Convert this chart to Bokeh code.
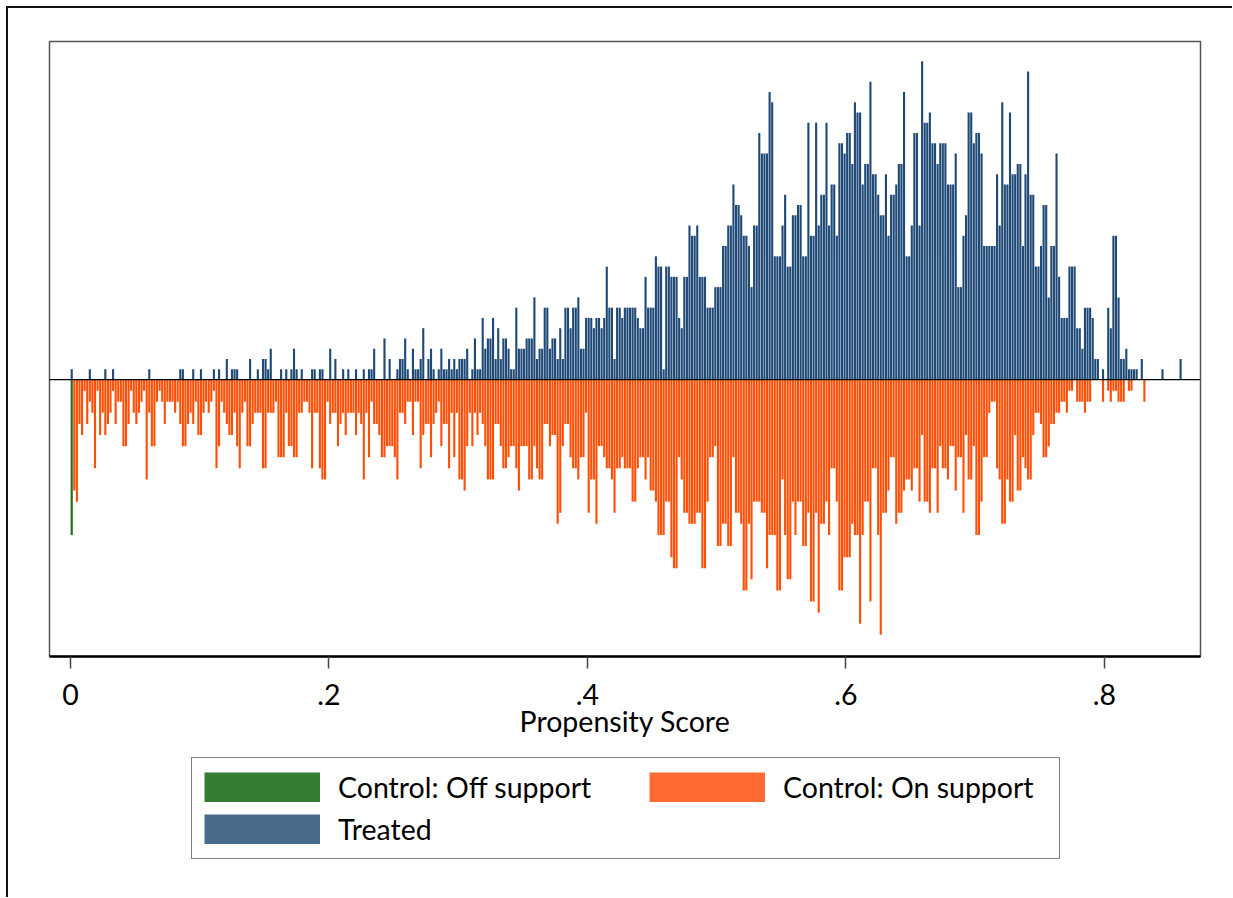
import numpy as np
from bokeh.plotting import figure
from bokeh.layouts import column
from bokeh.models import Range1d, FixedTicker, Span, Legend, LegendItem
from bokeh.embed import file_html
from bokeh.resources import INLINE

# ---------------- data (frequencies per propensity-score bin of width 0.002) -------------
BIN_WIDTH = 0.002

control_on = [
    0,
    10, 11, 4, 5, 1, 4, 2, 3, 8, 1,
    5, 3, 5, 4, 3, 1, 4, 2, 2, 6,
    6, 4, 1, 3, 4, 3, 2, 1, 9, 3,
    6, 6, 2, 1, 2, 4, 2, 2, 2, 3,
    2, 4, 6, 6, 4, 3, 4, 2, 5, 5,
    3, 2, 3, 2, 1, 8, 6, 2, 3, 4,
    5, 5, 3, 6, 8, 3, 2, 6,
    6, 4, 3, 3, 3, 8, 8, 3, 3, 3,
    2, 7, 7, 7, 3, 6, 6, 7, 7, 3,
    3, 2, 2, 3, 8, 3, 3, 8, 9, 9,
    2, 4, 3, 3, 6, 4, 3, 5, 3, 3,
    3, 5, 3, 4, 9, 3, 7, 2, 4, 4,
    5, 7, 7, 6, 6, 6, 7, 9, 3, 3,
    4, 2, 2, 5, 2, 2, 8, 5, 4, 4,
    7, 4, 3, 2, 6,
    4, 4, 8, 3, 7, 3, 9, 9, 10, 6,
    3, 6, 3, 5, 3, 4, 6, 9, 9, 9,
    4, 4, 6, 8, 8, 7, 6, 6, 8, 10,
    6, 6, 6, 9, 9, 6, 8, 9, 9, 4,
    4, 6, 5, 5, 13, 12, 6, 4, 4, 7,
    8, 8, 9, 7, 7, 3, 12, 9, 9, 13, 6, 6,
    7, 8, 8, 9, 12, 8, 8, 7, 8, 8,
    8, 11, 11, 8, 7, 7, 9, 7, 10, 10,
    11, 14, 14, 14, 11, 11, 16, 17, 17, 7,
    9, 12, 12, 13, 13, 13, 12, 12, 17, 17,
    11, 7, 7, 6, 15, 15, 13, 13, 15, 15,
    7, 12, 12, 13, 19, 19, 13, 18, 11, 11, 11, 12,
    12, 17, 14, 14, 14, 19, 19, 9, 14, 18,
    18, 11, 14, 11, 11, 15, 15, 12, 20, 20,
    12, 21, 13, 13, 11, 14, 8, 8, 11, 19,
    19, 16, 16, 16, 13, 14, 14, 22, 14, 11,
    11, 20, 8, 8, 14, 23, 12, 12, 10, 7,
    7, 13, 12, 12, 10, 9, 9, 10, 8, 8,
    11, 5, 11, 11, 12, 8, 8, 12, 6, 8,
    8, 9, 6, 6, 10, 7, 7, 12, 5, 9,
    9, 6, 14, 14, 11, 7, 7, 3, 2, 2,
    8, 9, 13, 13, 9, 11, 11, 5, 10, 10,
    7, 8, 9, 9, 5, 3, 3, 4, 7, 7,
    6, 4, 4, 3, 3, 2, 2, 3, 1, 1, 0,
    2, 2, 2, 3, 2, 2, 0, 0, 0, 0,
    2, 0, 1, 2, 1, 1, 2, 2, 2, 0,
    1, 1, 0, 0, 0, 0, 2,
    0, 0, 0, 0, 0, 0, 0, 0, 0, 0, 0, 0, 0, 0,
]

treated = [
    1, 0, 0, 0, 0, 0, 0, 1, 0, 0,
    0, 0, 0, 1, 0, 0, 1, 0, 0, 0,
    0, 0, 0, 0, 0, 0, 0, 0, 0, 0,
    1, 0, 0, 0, 0, 0, 0, 0, 0, 0,
    0, 0, 1, 1, 0, 0, 0, 1, 0, 0,
    1, 0, 0, 0, 0, 1, 0, 1, 0, 0,
    2, 0, 1, 1, 1, 0, 0, 0, 0,
    2, 0, 0, 1, 0, 2, 2, 1, 3, 0,
    0, 0, 1, 0, 1, 0, 1, 3, 1, 0,
    1, 0, 0, 0, 1, 1, 0, 1, 1, 0,
    0, 3, 0, 2, 0, 0, 1, 0, 1, 0,
    0, 1, 0, 0, 1, 0, 1, 1, 3, 0,
    0, 0, 4, 0, 2, 0, 0, 1, 2, 2,
    4, 1, 0, 3, 1, 1, 2, 5, 0, 2,
    3, 1, 0, 1, 3,
    1, 1, 2, 1, 2, 1, 2, 2, 2, 3,
    0, 1, 4, 1, 1, 6, 3, 4, 4, 6,
    2, 5, 2, 4, 4, 3, 1, 1, 7, 3,
    3, 3, 4, 4, 4, 8, 2, 3, 3, 7,
    7, 3, 4, 4, 2, 5, 2, 7, 7, 5,
    7, 7, 8, 3, 3, 6, 6, 6, 5, 6, 6, 5,
    6, 11, 7, 7, 2, 7, 7, 6, 7, 7,
    7, 7, 7, 6, 5, 5, 10, 7, 7, 7,
    12, 11, 11, 1, 11, 11, 10, 10, 10, 6,
    5, 10, 10, 15, 14, 14, 15, 10, 10, 10,
    7, 7, 7, 9, 9, 9, 13, 13, 15, 15,
    19, 17, 17, 16, 14, 14, 13, 9, 15, 15, 24, 22,
    22, 22, 28, 27, 12, 12, 12, 15, 18, 11,
    11, 16, 16, 17, 17, 12, 12, 25, 14, 14,
    25, 15, 18, 18, 25, 15, 19, 19, 14, 23,
    23, 22, 24, 24, 21, 27, 26, 26, 19, 21,
    21, 29, 20, 20, 18, 16, 16, 20, 14, 18,
    18, 19, 21, 21, 28, 12, 12, 15, 24, 24,
    15, 31, 25, 25, 26, 23, 23, 21, 23, 23,
    23, 19, 19, 19, 22, 9, 9, 14, 16, 26,
    26, 23, 24, 24, 22, 13, 13, 13, 13, 13,
    20, 15, 27, 19, 19, 26, 20, 20, 21, 21,
    13, 20, 30, 18, 18, 11, 11, 13, 17, 17,
    8, 13, 13, 22, 10, 6, 6, 6, 11, 11, 11,
    5, 5, 3, 7, 7, 7, 6, 2, 2, 0,
    1, 0, 7, 5, 14, 14, 8, 2, 2, 3,
    1, 1, 1, 1, 0, 2, 0,
    0, 0, 0, 0, 0, 0, 1, 0, 0, 0, 0, 0, 0, 2,
]

off_support_bin = [0]
off_support = [14]

TREATED_SCALE = 0.925   # treated frequencies are drawn on a slightly smaller unit

x_ticks = [0, 0.2, 0.4, 0.6, 0.8]
x_tick_labels = ["0", ".2", ".4", ".6", ".8"]

legend_labels = ["Control: Off support", "Control: On support", "Treated"]

# -------------------------------------------------------------------------------------
FONT = "Lato"
FS = "28.5px"
C_TREAT = "#1f4a77"
C_ON = "#ff4e05"
C_OFF = "#1d6b1d"

n = min(len(control_on), len(treated))
k = np.arange(n)
centers = (k + 0.5) * BIN_WIDTH
ctrl = np.array(control_on[:n], dtype=float)
trt = np.array(treated[:n], dtype=float) * TREATED_SCALE

W = 1224
p = figure(width=W, height=745, output_backend="svg", toolbar_location=None,
           x_range=Range1d(-0.0162, 0.8744), y_range=Range1d(-24.95, 30.45),
           y_axis_location=None,
           min_border_left=41, min_border_right=32, min_border_top=33, min_border_bottom=97)
p.background_fill_color = "white"
p.border_fill_color = "white"
p.outline_line_color = "#555555"
p.outline_line_width = 1.5
p.xgrid.visible = False
p.ygrid.visible = False

bw = BIN_WIDTH * 0.82
p.vbar(x=centers, bottom=0, top=trt, width=bw, fill_color=C_TREAT, line_color=None)
p.vbar(x=centers, top=0, bottom=-ctrl, width=bw, fill_color=C_ON, line_color=None)
off_x = [(b + 0.5) * BIN_WIDTH for b in off_support_bin]
p.vbar(x=off_x, top=0, bottom=[-v for v in off_support], width=bw, fill_color=C_OFF, line_color=None)

p.add_layout(Span(location=0, dimension="width", line_color="black", line_width=1.2))

ax = p.xaxis[0]
ax.ticker = FixedTicker(ticks=x_ticks)
ax.major_label_overrides = {t: s for t, s in zip(x_ticks, x_tick_labels)}
ax.axis_line_color = "black"
ax.axis_line_width = 2.5
ax.major_tick_out = 12
ax.major_tick_in = 0
ax.major_tick_line_color = "#444444"
ax.major_tick_line_width = 1.5
ax.minor_tick_out = 0
ax.minor_tick_in = 0
ax.major_label_text_font = FONT
ax.major_label_text_font_size = FS
ax.major_label_text_color = "black"
ax.major_label_standoff = 15
ax.axis_label = "Propensity Score"
ax.axis_label_text_font = FONT
ax.axis_label_text_font_size = FS
ax.axis_label_text_font_style = "normal"
ax.axis_label_text_color = "black"
ax.axis_label_standoff = -4

# ---------------- legend panel (separate figure below the plot) ----------------
lf = figure(width=W, height=144, output_backend="svg", toolbar_location=None,
            x_range=Range1d(0, 1), y_range=Range1d(0, 1),
            x_axis_location=None, y_axis_location=None,
            min_border_left=0, min_border_right=0, min_border_top=0, min_border_bottom=0)
lf.outline_line_color = None
lf.xgrid.visible = False
lf.ygrid.visible = False
lf.border_fill_color = "white"

# legend-only renderers (no drawable data): thick lines give full-size colour swatches
nan = np.array([np.nan])
r_off = lf.line(x=nan, y=nan, line_color="#347c31", line_width=30)
r_on = lf.line(x=nan, y=nan, line_color="#ff6a33", line_width=30)
r_tr = lf.line(x=nan, y=nan, line_color="#486a8b", line_width=30)

legA = Legend(items=[LegendItem(label=legend_labels[0], renderers=[r_off]),
                     LegendItem(label=legend_labels[2], renderers=[r_tr])],
              location=(142, 38), orientation="vertical",
              glyph_width=116, glyph_height=30, label_standoff=18, label_width=709,
              spacing=8, padding=12, margin=0,
              border_line_color="black", border_line_width=1.5,
              label_text_font=FONT, label_text_font_size=FS, label_text_color="black")
legB = Legend(items=[LegendItem(label=legend_labels[1], renderers=[r_on])],
              location=(600, 93), orientation="vertical",
              glyph_width=116, glyph_height=30, label_standoff=18,
              spacing=0, padding=0, margin=0,
              border_line_alpha=0, background_fill_alpha=0,
              label_text_font=FONT, label_text_font_size=FS, label_text_color="black")
lf.add_layout(legA)
lf.add_layout(legB)

layout = column(p, lf, spacing=0,
                styles={"border-left": "2px solid #111111", "border-top": "2px solid #111111",
                        "margin-left": "6px", "margin-top": "6px"})

open("out.html", "w").write(file_html(layout, INLINE))
